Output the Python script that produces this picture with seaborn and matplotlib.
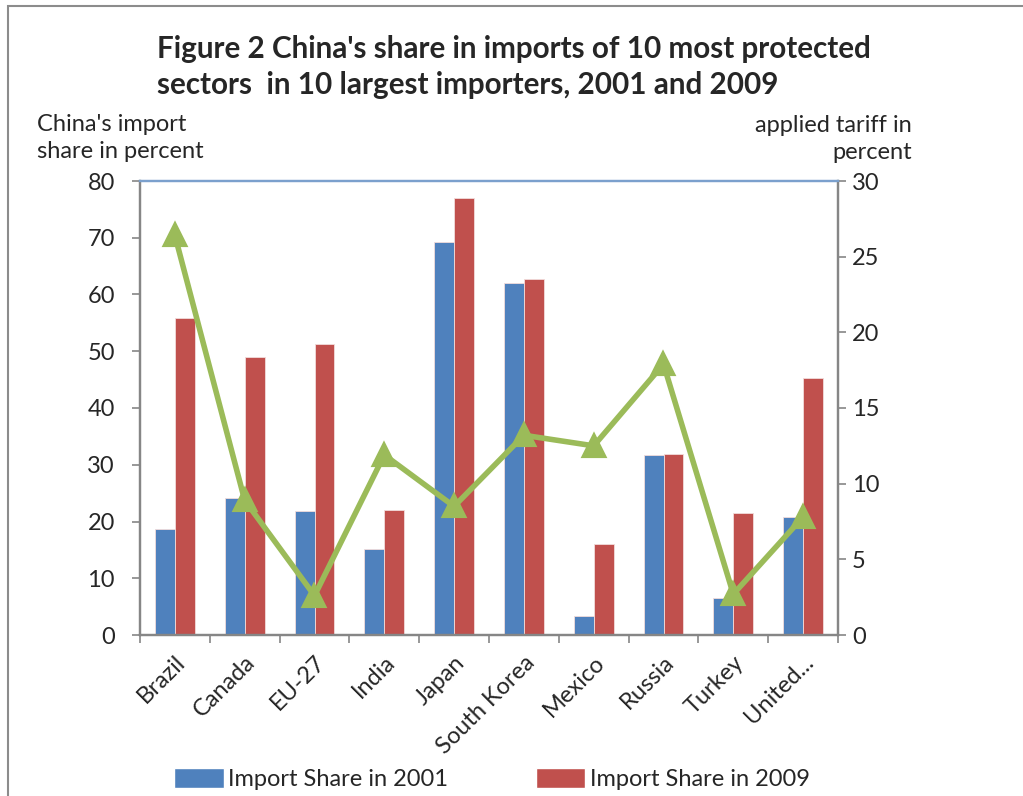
import numpy as np
import pandas as pd
import matplotlib
matplotlib.use('Agg')
import matplotlib.pyplot as plt
import seaborn as sns
from matplotlib.patches import Patch, Rectangle

# values
countries = ['Brazil', 'Canada', 'EU-27', 'India', 'Japan', 'South Korea',
             'Mexico', 'Russia', 'Turkey', 'United...']
share_2001 = [18.6, 24.1, 21.8, 15.1, 69.2, 62.1, 3.4, 31.7, 6.5, 20.8]
share_2009 = [55.9, 48.9, 51.2, 22.0, 77.0, 62.8, 16.0, 31.9, 21.5, 45.2]
tariff = [26.4, 8.9, 2.6, 11.9, 8.5, 13.2, 12.5, 17.9, 2.7, 7.8]
series = ['Import Share in 2001', 'Import Share in 2009']

BLUE = '#4F81BD'
RED = '#C0504D'
GREEN = '#9BBB59'
GREY = '#868686'

sns.set_style('white')
plt.rcParams['font.family'] = ['Lato', 'DejaVu Sans']

df = pd.DataFrame({
    'country': countries * 2,
    'share': share_2001 + share_2009,
    'series': [series[0]] * len(countries) + [series[1]] * len(countries),
})
tdf = pd.DataFrame({'country': countries, 'tariff': tariff})

fig = plt.figure(figsize=(10.23, 7.96), dpi=100)
ax = fig.add_axes([140 / 1023, 1 - 635 / 796, 698 / 1023, 454 / 796])

sns.barplot(data=df, x='country', y='share', hue='series', order=countries,
            palette=[BLUE, RED], saturation=1, width=0.573, gap=0, ax=ax,
            legend=False, edgecolor='#f2dcdb', linewidth=0.6)

ax2 = ax.twinx()
sns.pointplot(data=tdf, x='country', y='tariff', order=countries, ax=ax2,
              color=GREEN, markers='^', markersize=14, linewidth=4)

ax.set_xlim(-0.5, 9.5)
ax.set_ylim(0, 80)
ax2.set_ylim(0, 30)
ax.set_yticks(range(0, 81, 10))
ax2.set_yticks(range(0, 31, 5))
ax.set_xlabel('')
ax.set_ylabel('')
ax2.set_ylabel('')

ax.set_xticks(range(len(countries)))
ax.set_xticklabels(countries, rotation=45, ha='right', rotation_mode='anchor',
                   fontsize=17)
ax.set_xticks(np.arange(-0.5, 10, 1), minor=True)
ax.tick_params(axis='x', which='major', length=0, pad=12)
ax.tick_params(axis='x', which='minor', length=6, color=GREY, width=1.2,
               direction='out', bottom=True)
ax.tick_params(axis='y', length=6, color=GREY, width=1.2, direction='out',
               left=True, labelsize=17, pad=12)
ax2.tick_params(axis='y', length=6, color=GREY, width=1.2, direction='out',
                right=True, labelsize=17, pad=4)

for a in (ax, ax2):
    for s in ('left', 'bottom', 'right'):
        a.spines[s].set_color(GREY)
        a.spines[s].set_linewidth(1.6)
    a.spines['top'].set_color('#7BA0CD')
    a.spines['top'].set_linewidth(1.6)

fig.text(157 / 1023, 1 - 67 / 796,
         "Figure 2 China's share in imports of 10 most protected\n"
         "sectors  in 10 largest importers, 2001 and 2009",
         fontsize=21.3, fontweight='bold', ha='left', va='center',
         linespacing=1.35)
fig.text(37 / 1023, 1 - 138 / 796, "China's import\nshare in percent",
         fontsize=17, ha='left', va='center', linespacing=1.4)
fig.text(912 / 1023, 1 - 139 / 796, "applied tariff in\npercent",
         fontsize=17, ha='right', va='center', linespacing=1.4,
         multialignment='right')

handles = [Patch(facecolor=BLUE), Patch(facecolor=RED)]
fig.legend(handles, series, loc='center', bbox_to_anchor=(0.481, 1 - 779 / 796),
           ncol=2, frameon=False, fontsize=17, handlelength=2.1,
           handleheight=0.9, handletextpad=0.2, columnspacing=3.7)

# outer chart frame (partly cut off in the reference)
fig.patches.append(Rectangle((8 / 1023, -0.1), 1.2, 1 - 6 / 796 + 0.1,
                             transform=fig.transFigure, fill=False,
                             edgecolor='#8c8c8c', linewidth=1.5))

fig.savefig('out.png', dpi=100)
